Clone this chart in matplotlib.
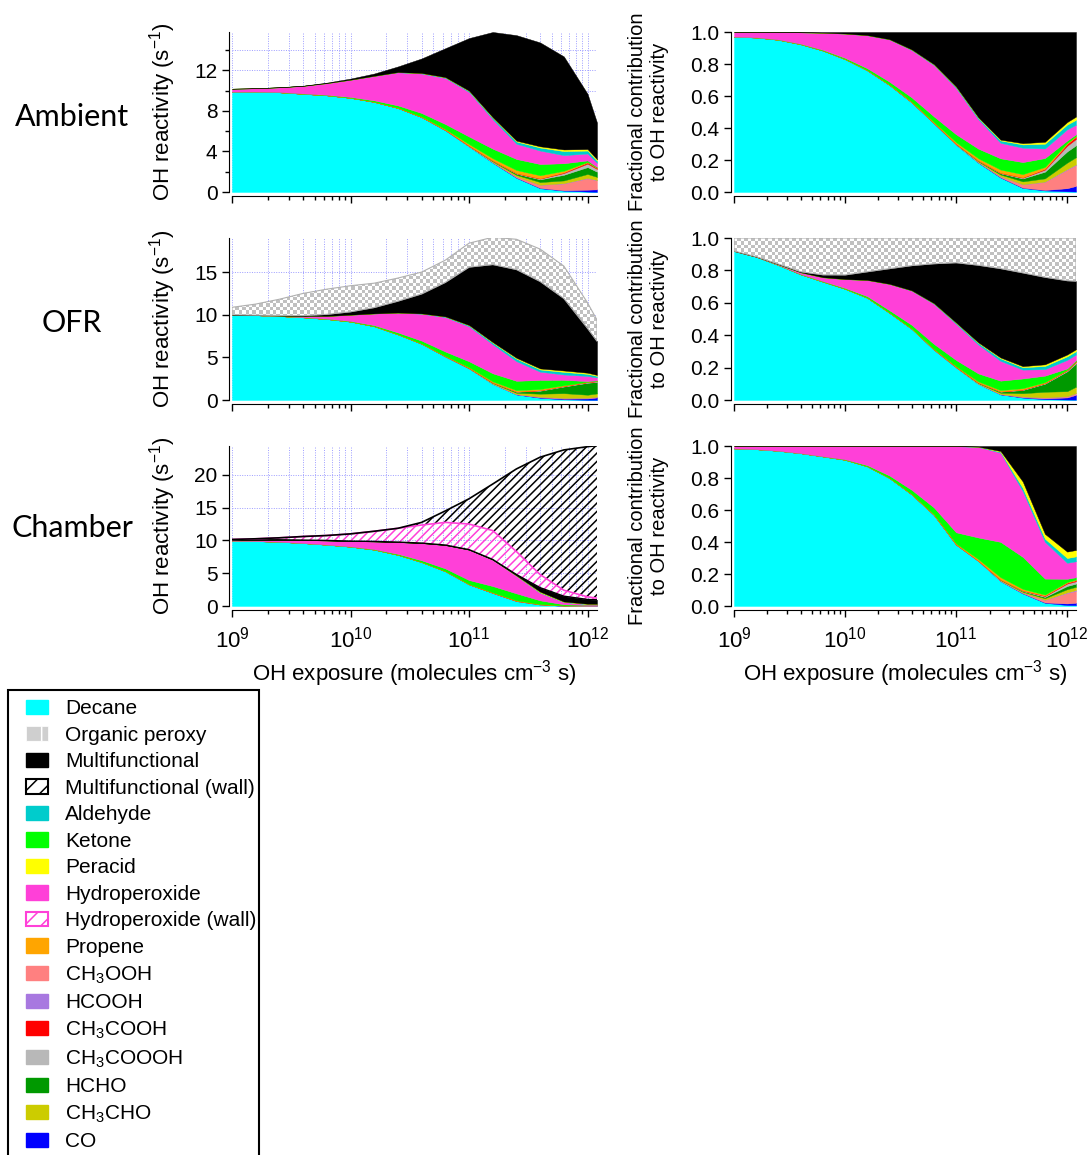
import numpy as np
import matplotlib
matplotlib.use('Agg')
import matplotlib.pyplot as plt
from matplotlib.colors import ListedColormap
from matplotlib.image import AxesImage
from matplotlib.patches import Patch, Rectangle
from matplotlib.ticker import LogLocator, NullFormatter, MultipleLocator

# ---------------- data (OH reactivity, s-1) ----------------
log_exposure = np.array([9.0, 9.2, 9.4, 9.6, 9.8, 10.0, 10.2, 10.4, 10.6, 10.8,
                         11.0, 11.2, 11.4, 11.6, 11.8, 12.0, 12.08])
exposure = 10 ** log_exposure

# Ambient
amb_decane = [9.9, 9.9, 9.85, 9.7, 9.55, 9.3, 8.9, 8.3, 7.4, 6.1, 4.5, 2.9, 1.4, 0.37, 0.13, 0.04, 0.02]
amb_co = [0, 0, 0, 0, 0, 0, 0, 0, 0, 0, 0, 0.01, 0.02, 0.03, 0.04, 0.19, 0.24]
amb_ch3ooh = [0, 0, 0, 0, 0, 0, 0, 0, 0, 0.01, 0.02, 0.05, 0.12, 0.3, 0.67, 1.12, 0.89]
amb_hcooh = [0, 0, 0, 0, 0, 0, 0, 0, 0, 0, 0, 0, 0, 0.01, 0.03, 0.04, 0.03]
amb_ch3cho = [0, 0, 0, 0, 0, 0, 0, 0, 0, 0.01, 0.04, 0.08, 0.15, 0.27, 0.27, 0.39, 0.31]
amb_hcho = [0, 0, 0, 0, 0, 0, 0, 0, 0, 0.01, 0.02, 0.05, 0.12, 0.27, 0.56, 0.68, 0.51]
amb_ch3coooh = [0, 0, 0, 0, 0, 0, 0, 0, 0, 0, 0, 0.01, 0.03, 0.07, 0.17, 0.34, 0.27]
amb_ch3cooh = [0, 0, 0, 0, 0, 0, 0, 0, 0, 0, 0, 0.01, 0.02, 0.03, 0.07, 0.12, 0.10]
amb_propene = [0, 0, 0, 0, 0, 0.01, 0.02, 0.03, 0.05, 0.08, 0.15, 0.22, 0.31, 0.30, 0.16, 0.05, 0.03]
amb_ketone = [0, 0.01, 0.02, 0.03, 0.05, 0.08, 0.13, 0.22, 0.35, 0.50, 0.75, 0.95, 1.09, 1.11, 0.74, 0.15, 0.07]
amb_hydroperoxide = [0.3, 0.34, 0.47, 0.75, 1.15, 1.7, 2.41, 3.27, 3.9, 4.55, 4.4, 2.9, 1.5, 1.33, 0.8, 0.68, 0.41]
amb_aldehyde = [0, 0, 0, 0, 0, 0, 0.01, 0.02, 0.04, 0.06, 0.10, 0.15, 0.23, 0.30, 0.40, 0.29, 0.21]
amb_peracid = [0, 0, 0, 0, 0, 0, 0, 0, 0.01, 0.02, 0.03, 0.05, 0.08, 0.12, 0.16, 0.15, 0.14]
amb_multifunctional = [0, 0, 0.01, 0.02, 0.05, 0.11, 0.23, 0.56, 1.44, 2.86, 5.19, 8.42, 10.42, 10.26, 9.19, 5.46, 3.62]

# OFR
ofr_decane = [10.0, 9.95, 9.85, 9.7, 9.5, 9.2, 8.65, 7.7, 6.6, 5.1, 3.7, 1.9, 0.65, 0.26, 0.08, 0.03, 0.02]
ofr_co = [0, 0, 0, 0, 0, 0, 0, 0, 0, 0, 0, 0, 0.01, 0.04, 0.08, 0.15, 0.28]
ofr_ch3ooh = [0, 0, 0, 0, 0, 0, 0, 0, 0, 0, 0, 0.02, 0.04, 0.09, 0.08, 0.08, 0.09]
ofr_hcooh = [0, 0, 0, 0, 0, 0, 0, 0, 0, 0, 0, 0, 0, 0, 0.01, 0.01, 0.01]
ofr_ch3cho = [0, 0, 0, 0, 0, 0, 0, 0, 0, 0.02, 0.04, 0.08, 0.15, 0.35, 0.55, 0.35, 0.37]
ofr_hcho = [0, 0, 0, 0, 0, 0, 0, 0, 0, 0.01, 0.02, 0.05, 0.12, 0.35, 0.78, 1.4, 1.35]
ofr_ch3coooh = [0, 0, 0, 0, 0, 0, 0, 0, 0, 0, 0, 0.01, 0.02, 0.04, 0.05, 0.06, 0.07]
ofr_ch3cooh = [0, 0, 0, 0, 0, 0, 0, 0, 0, 0, 0, 0, 0.01, 0.02, 0.02, 0.03, 0.04]
ofr_propene = [0, 0, 0, 0, 0, 0, 0.01, 0.02, 0.03, 0.05, 0.08, 0.12, 0.15, 0.14, 0.08, 0.03, 0.03]
ofr_ketone = [0, 0, 0, 0.02, 0.04, 0.07, 0.12, 0.2, 0.33, 0.5, 0.7, 0.95, 1.1, 1.06, 0.63, 0.08, 0.05]
ofr_hydroperoxide = [0, 0, 0.05, 0.13, 0.31, 0.73, 1.37, 2.32, 3.16, 4.05, 4.1, 3.4, 2.3, 0.97, 0.63, 0.6, 0.33]
ofr_aldehyde = [0, 0, 0, 0, 0, 0, 0, 0.01, 0.03, 0.06, 0.12, 0.2, 0.3, 0.26, 0.31, 0.25, 0.19]
ofr_peracid = [0, 0, 0, 0, 0, 0, 0, 0, 0, 0.01, 0.03, 0.06, 0.1, 0.12, 0.16, 0.13, 0.11]
ofr_multifunctional = [0, 0, 0.02, 0.05, 0.2, 0.35, 0.7, 1.35, 2.3, 4.0, 6.8, 9.1, 10.35, 10.2, 8.45, 5.2, 3.95]
ofr_organic_peroxy = [0.87, 1.3, 1.9, 2.6, 2.95, 3.05, 2.85, 2.7, 2.55, 2.6, 2.8, 3.2, 3.55, 3.8, 3.8, 3.0, 2.5]

# Chamber
ch_decane = [9.95, 9.9, 9.8, 9.6, 9.35, 9.05, 8.6, 7.8, 6.7, 5.3, 3.3, 2.0, 0.75, 0.22, 0.03, 0.006, 0.005]
ch_co = [0, 0, 0, 0, 0, 0, 0, 0, 0, 0, 0, 0, 0, 0.003, 0.003, 0.01, 0.014]
ch_ch3ooh = [0, 0, 0, 0, 0, 0, 0, 0, 0, 0, 0, 0, 0.015, 0.014, 0.023, 0.065, 0.071]
ch_hcooh = [0, 0, 0, 0, 0, 0, 0, 0, 0, 0, 0, 0, 0, 0, 0.002, 0.004, 0.005]
ch_ch3cho = [0, 0, 0, 0, 0, 0, 0, 0, 0, 0, 0.01, 0.01, 0.02, 0.014, 0.015, 0.02, 0.019]
ch_hcho = [0, 0, 0, 0, 0, 0, 0, 0, 0, 0, 0, 0, 0.01, 0.011, 0.012, 0.02, 0.019]
ch_ch3coooh = [0, 0, 0, 0, 0, 0, 0, 0, 0, 0, 0, 0, 0, 0.006, 0.008, 0.015, 0.014]
ch_ch3cooh = [0, 0, 0, 0, 0, 0, 0, 0, 0, 0, 0, 0, 0, 0.003, 0.005, 0.006, 0.006]
ch_propene = [0, 0, 0, 0, 0, 0, 0, 0.01, 0.02, 0.03, 0.05, 0.07, 0.07, 0.028, 0.009, 0.004, 0.004]
ch_ketone = [0, 0, 0, 0, 0.01, 0.03, 0.07, 0.14, 0.25, 0.4, 0.6, 0.96, 1.06, 0.56, 0.15, 0.02, 0.014]
ch_hydroperoxide = [0.15, 0.2, 0.3, 0.45, 0.64, 0.82, 1.18, 1.8, 2.63, 3.56, 4.63, 4.02, 2.68, 1.15, 0.345, 0.10, 0.095]
ch_aldehyde = [0, 0, 0, 0, 0, 0, 0, 0, 0, 0.01, 0.01, 0.01, 0.024, 0.056, 0.03, 0.03, 0.029]
ch_peracid = [0, 0, 0, 0, 0, 0, 0, 0, 0, 0, 0, 0, 0.024, 0.112, 0.045, 0.04, 0.038]
ch_multifunctional = [0, 0, 0, 0, 0, 0, 0, 0, 0, 0, 0, 0.03, 0.15, 0.62, 0.825, 0.66, 0.618]
ch_hydroperoxide_wall = [0.05, 0.15, 0.3, 0.55, 0.75, 1.1, 1.55, 2.1, 2.75, 3.45, 3.9, 4.4, 3.5, 2.0, 0.9, 0.4, 0.25]
ch_multifunctional_wall = [0, 0, 0, 0, 0, 0, 0, 0, 0.4, 1.75, 3.85, 7.1, 12.6, 17.9, 21.4, 22.9, 23.25]

ambient = {'decane': amb_decane, 'co': amb_co, 'ch3ooh': amb_ch3ooh, 'hcooh': amb_hcooh,
           'ch3cho': amb_ch3cho, 'hcho': amb_hcho, 'ch3coooh': amb_ch3coooh, 'ch3cooh': amb_ch3cooh,
           'propene': amb_propene, 'ketone': amb_ketone, 'hydroperoxide': amb_hydroperoxide,
           'aldehyde': amb_aldehyde, 'peracid': amb_peracid, 'multifunctional': amb_multifunctional}
ofr = {'decane': ofr_decane, 'co': ofr_co, 'ch3ooh': ofr_ch3ooh, 'hcooh': ofr_hcooh,
       'ch3cho': ofr_ch3cho, 'hcho': ofr_hcho, 'ch3coooh': ofr_ch3coooh, 'ch3cooh': ofr_ch3cooh,
       'propene': ofr_propene, 'ketone': ofr_ketone, 'hydroperoxide': ofr_hydroperoxide,
       'aldehyde': ofr_aldehyde, 'peracid': ofr_peracid, 'multifunctional': ofr_multifunctional,
       'organic_peroxy': ofr_organic_peroxy}
chamber = {'decane': ch_decane, 'co': ch_co, 'ch3ooh': ch_ch3ooh, 'hcooh': ch_hcooh,
           'ch3cho': ch_ch3cho, 'hcho': ch_hcho, 'ch3coooh': ch_ch3coooh, 'ch3cooh': ch_ch3cooh,
           'propene': ch_propene, 'ketone': ch_ketone, 'hydroperoxide': ch_hydroperoxide,
           'aldehyde': ch_aldehyde, 'peracid': ch_peracid, 'multifunctional': ch_multifunctional}

stack_order = ['decane', 'co', 'ch3ooh', 'hcooh', 'ch3cho', 'hcho', 'ch3coooh', 'ch3cooh',
               'propene', 'ketone', 'hydroperoxide', 'aldehyde', 'peracid',
               'multifunctional', 'organic_peroxy']

colors = {'decane': '#00ffff', 'organic_peroxy': '#c4c4c4', 'multifunctional': '#000000',
          'aldehyde': '#00cccc', 'ketone': '#00ff00', 'peracid': '#ffff00',
          'hydroperoxide': '#ff40d8', 'propene': '#ffa500', 'ch3ooh': '#ff8080',
          'hcooh': '#a878e0', 'ch3cooh': '#ff0000', 'ch3coooh': '#b8b8b8',
          'hcho': '#009900', 'ch3cho': '#cccc00', 'co': '#0000ff'}

legend_labels = [('decane', 'Decane'), ('organic_peroxy', 'Organic peroxy'),
                 ('multifunctional', 'Multifunctional'), ('mf_wall', 'Multifunctional (wall)'),
                 ('aldehyde', 'Aldehyde'), ('ketone', 'Ketone'), ('peracid', 'Peracid'),
                 ('hydroperoxide', 'Hydroperoxide'), ('hp_wall', 'Hydroperoxide (wall)'),
                 ('propene', 'Propene'), ('ch3ooh', 'CH$_3$OOH'), ('hcooh', 'HCOOH'),
                 ('ch3cooh', 'CH$_3$COOH'), ('ch3coooh', 'CH$_3$COOOH'), ('hcho', 'HCHO'),
                 ('ch3cho', 'CH$_3$CHO'), ('co', 'CO')]

# ---------------- style ----------------
plt.rcParams['font.family'] = ['Liberation Sans', 'DejaVu Sans']
plt.rcParams['mathtext.fontset'] = 'custom'
plt.rcParams['mathtext.rm'] = 'Liberation Sans'
plt.rcParams['mathtext.it'] = 'Liberation Sans:italic'
plt.rcParams['mathtext.bf'] = 'Liberation Sans:bold'
plt.rcParams['hatch.linewidth'] = 1.1

W, H = 1091, 1155
fig = plt.figure(figsize=(W / 100, H / 100), dpi=100)

col_px = [(232, 597), (734, 1076)]
row_px = [(32, 192), (238, 400), (446, 606)]


def make_axes(col, row):
    (x0, x1), (y0, y1) = col_px[col], row_px[row]
    return fig.add_axes([x0 / W, 1 - y1 / H, (x1 - x0) / W, (y1 - y0) / H])


def style_axes(ax, ymax, ymajor, yminor=None, grid=False, xlabels=False):
    ax.set_xscale('log')
    ax.set_xlim(1e9, 10 ** 12.08)
    ax.set_ylim(0, ymax)
    ax.spines[['top', 'right']].set_visible(False)
    ax.spines['left'].set_position(('outward', 2))
    ax.spines['bottom'].set_position(('outward', 3))
    ax.yaxis.set_major_locator(MultipleLocator(ymajor))
    if yminor:
        ax.yaxis.set_minor_locator(MultipleLocator(yminor))
    ax.xaxis.set_major_locator(LogLocator(10))
    ax.xaxis.set_minor_locator(LogLocator(10, subs=np.arange(2, 10)))
    ax.xaxis.set_minor_formatter(NullFormatter())
    ax.tick_params(which='major', length=5, width=1, labelsize=15, direction='out')
    ax.tick_params(which='minor', length=3, width=1, direction='out')
    ax.tick_params(axis='x', labelsize=16, pad=7, labelbottom=xlabels)
    if grid:
        ax.set_axisbelow(True)
        ax.grid(True, which='both', color='#9c9cff', linestyle=(0, (1, 1.5)), linewidth=0.7)


def checker_fill(ax, lower, upper, cell=3.4):
    poly = ax.fill_between(exposure, lower, upper, facecolor='none',
                           edgecolor='#b0b0b0', linewidth=0.8, zorder=2)
    pos = ax.get_position()
    ncol = int(pos.width * W / cell)
    nrow = int(pos.height * H / cell)
    board = np.add.outer(np.arange(nrow), np.arange(ncol)) % 2
    im = AxesImage(ax, cmap=ListedColormap(['white', '#c0c0c0']), interpolation='nearest',
                   extent=(0, 1, 0, 1), transform=ax.transAxes, zorder=1.9)
    im.set_data(board)
    im.set_clim(0, 1)
    ax.add_image(im)
    im.set_clip_path(poly.get_paths()[0], ax.transData)


def draw_stack(ax, data, fraction=False):
    keys = [k for k in stack_order if k in data]
    total = np.sum([np.array(data[k], float) for k in keys], axis=0)
    base = np.zeros_like(total)
    for k in keys:
        vals = np.array(data[k], float)
        if fraction:
            vals = vals / total
        top = base + vals
        if k == 'organic_peroxy':
            checker_fill(ax, base, top)
        else:
            ax.fill_between(exposure, base, top, facecolor=colors[k], edgecolor=colors[k],
                            linewidth=0.3, zorder=2)
        base = top
    return base


# ---------------- panels ----------------
scenarios = [('Ambient', ambient, 15.8, 4, 2), ('OFR', ofr, 19.0, 5, None),
             ('Chamber', chamber, 24.4, 5, None)]
row_label_y = [117, 323, 528]

for r, (name, data, ymax, ymaj, ymin) in enumerate(scenarios):
    last = r == 2
    axl = make_axes(0, r)
    top = draw_stack(axl, data)
    if name == 'Chamber':
        hp_top = top + np.array(ch_hydroperoxide_wall)
        mf_top = hp_top + np.array(ch_multifunctional_wall)
        axl.plot(exposure, top, color='black', lw=1.0, zorder=3)
        axl.fill_between(exposure, top, hp_top, facecolor='none', edgecolor=colors['hydroperoxide'],
                         hatch='////', linewidth=0, zorder=2)
        axl.plot(exposure, hp_top, color=colors['hydroperoxide'], lw=1.2, zorder=3)
        axl.fill_between(exposure, hp_top, mf_top, facecolor='none', edgecolor='black',
                         hatch='////', linewidth=0, zorder=2)
        axl.plot(exposure, mf_top, color='black', lw=1.2, zorder=3)
    style_axes(axl, ymax, ymaj, ymin, grid=True, xlabels=last)
    axl.set_ylabel('OH reactivity (s$^{-1}$)', fontsize=16)
    axl.yaxis.set_label_coords(-0.148, 0.5)

    axr = make_axes(1, r)
    draw_stack(axr, data, fraction=True)
    style_axes(axr, 1.0, 0.2, xlabels=last)
    axr.yaxis.set_major_formatter(plt.FormatStrFormatter('%.1f'))
    axr.set_ylabel('Fractional contribution\nto OH reactivity', fontsize=14.5)
    axr.yaxis.set_label_coords(-0.19, 0.5)

    if last:
        for ax in (axl, axr):
            ax.set_xlabel('OH exposure (molecules cm$^{-3}$ s)', fontsize=16, labelpad=4)

    fig.text(72 / W, 1 - row_label_y[r] / H, name, ha='center', va='center',
             fontsize=22, family=['Lato', 'DejaVu Sans'])

# ---------------- legend ----------------
handles = []
for key, label in legend_labels:
    if key == 'mf_wall':
        h = Patch(facecolor='white', edgecolor='black', hatch='//', linewidth=1.5)
    elif key == 'hp_wall':
        h = Patch(facecolor='white', edgecolor=colors['hydroperoxide'], hatch='//', linewidth=1.5)
    elif key == 'organic_peroxy':
        h = Patch(facecolor='#cfcfcf', edgecolor='white', hatch='+', linewidth=0.5)
    else:
        h = Patch(facecolor=colors[key], edgecolor=colors[key])
    handles.append(h)

leg = fig.legend(handles, [lab for _, lab in legend_labels], loc='upper left',
                 bbox_to_anchor=(20 / W, 1 - 693 / H), frameon=False,
                 fontsize=15, handlelength=1.05, handleheight=0.67,
                 handletextpad=0.8, labelspacing=0.36, borderpad=0.3, borderaxespad=0)
fig.patches.append(Rectangle((8 / W, -0.01), 251 / W, (1155 - 690) / H + 0.01,
                             transform=fig.transFigure, fill=False, edgecolor='black',
                             linewidth=1.5))

fig.savefig('out.png', dpi=100)
